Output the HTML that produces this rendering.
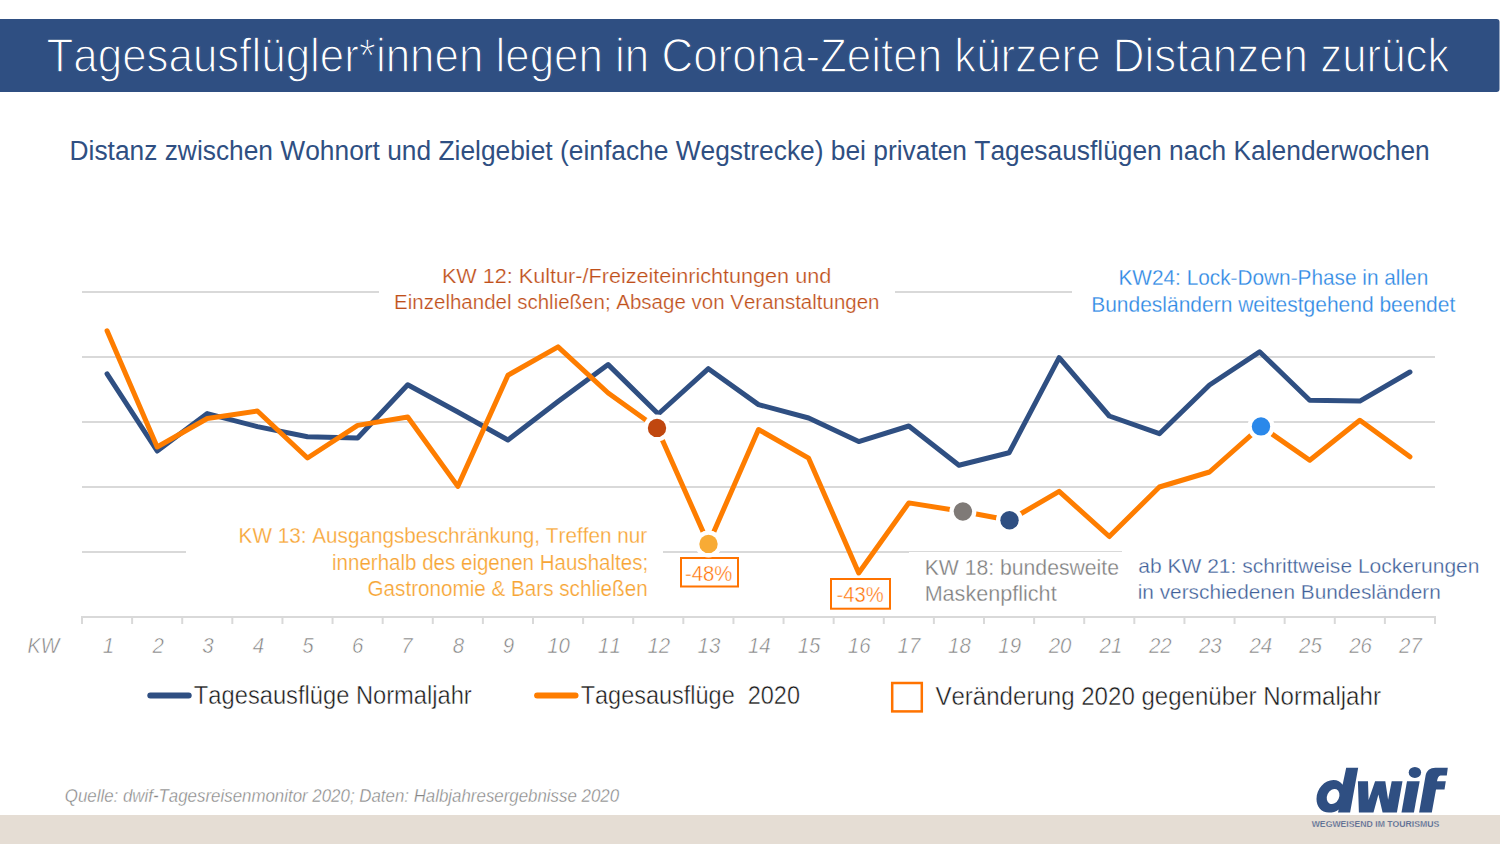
<!DOCTYPE html><html><head><meta charset="utf-8"><style>html,body{margin:0;padding:0;background:#fff;overflow:hidden}svg{display:block}text{font-family:"Liberation Sans",sans-serif;font-kerning:none;font-variant-ligatures:none}</style></head><body>
<svg width="1500" height="844" viewBox="0 0 1500 844">
<rect width="1500" height="844" fill="#fff"/>
<rect x="-10" y="19" width="1509.5" height="73" rx="3" fill="#2f4f82"/>
<text transform="translate(46.51 71.90) scale(0.9229 1)" font-size="47.57" fill="#fff" stroke="#2f4f82" stroke-width="1.30">Tagesausflügler*innen legen in Corona-Zeiten kürzere Distanzen zurück</text>
<text transform="translate(69.54 159.70) scale(0.9869 1)" font-size="26.71" fill="#2f4f82">Distanz zwischen Wohnort und Zielgebiet (einfache Wegstrecke) bei privaten Tagesausflügen nach Kalenderwochen</text>
<line x1="82" y1="292" x2="1435" y2="292" stroke="#d9d9d9" stroke-width="2"/>
<line x1="82" y1="357" x2="1435" y2="357" stroke="#d9d9d9" stroke-width="2"/>
<line x1="82" y1="422" x2="1435" y2="422" stroke="#d9d9d9" stroke-width="2"/>
<line x1="82" y1="487" x2="1435" y2="487" stroke="#d9d9d9" stroke-width="2"/>
<line x1="82" y1="552" x2="1435" y2="552" stroke="#d9d9d9" stroke-width="2"/>
<path d="M82 624 V617 H1435 V624" fill="none" stroke="#d9d9d9" stroke-width="2"/>
<line x1="132.11" y1="617" x2="132.11" y2="624" stroke="#d9d9d9" stroke-width="2"/>
<line x1="182.22" y1="617" x2="182.22" y2="624" stroke="#d9d9d9" stroke-width="2"/>
<line x1="232.33" y1="617" x2="232.33" y2="624" stroke="#d9d9d9" stroke-width="2"/>
<line x1="282.44" y1="617" x2="282.44" y2="624" stroke="#d9d9d9" stroke-width="2"/>
<line x1="332.55" y1="617" x2="332.55" y2="624" stroke="#d9d9d9" stroke-width="2"/>
<line x1="382.67" y1="617" x2="382.67" y2="624" stroke="#d9d9d9" stroke-width="2"/>
<line x1="432.78" y1="617" x2="432.78" y2="624" stroke="#d9d9d9" stroke-width="2"/>
<line x1="482.89" y1="617" x2="482.89" y2="624" stroke="#d9d9d9" stroke-width="2"/>
<line x1="533.00" y1="617" x2="533.00" y2="624" stroke="#d9d9d9" stroke-width="2"/>
<line x1="583.11" y1="617" x2="583.11" y2="624" stroke="#d9d9d9" stroke-width="2"/>
<line x1="633.22" y1="617" x2="633.22" y2="624" stroke="#d9d9d9" stroke-width="2"/>
<line x1="683.33" y1="617" x2="683.33" y2="624" stroke="#d9d9d9" stroke-width="2"/>
<line x1="733.44" y1="617" x2="733.44" y2="624" stroke="#d9d9d9" stroke-width="2"/>
<line x1="783.55" y1="617" x2="783.55" y2="624" stroke="#d9d9d9" stroke-width="2"/>
<line x1="833.66" y1="617" x2="833.66" y2="624" stroke="#d9d9d9" stroke-width="2"/>
<line x1="883.78" y1="617" x2="883.78" y2="624" stroke="#d9d9d9" stroke-width="2"/>
<line x1="933.89" y1="617" x2="933.89" y2="624" stroke="#d9d9d9" stroke-width="2"/>
<line x1="984.00" y1="617" x2="984.00" y2="624" stroke="#d9d9d9" stroke-width="2"/>
<line x1="1034.11" y1="617" x2="1034.11" y2="624" stroke="#d9d9d9" stroke-width="2"/>
<line x1="1084.22" y1="617" x2="1084.22" y2="624" stroke="#d9d9d9" stroke-width="2"/>
<line x1="1134.33" y1="617" x2="1134.33" y2="624" stroke="#d9d9d9" stroke-width="2"/>
<line x1="1184.44" y1="617" x2="1184.44" y2="624" stroke="#d9d9d9" stroke-width="2"/>
<line x1="1234.55" y1="617" x2="1234.55" y2="624" stroke="#d9d9d9" stroke-width="2"/>
<line x1="1284.66" y1="617" x2="1284.66" y2="624" stroke="#d9d9d9" stroke-width="2"/>
<line x1="1334.77" y1="617" x2="1334.77" y2="624" stroke="#d9d9d9" stroke-width="2"/>
<line x1="1384.89" y1="617" x2="1384.89" y2="624" stroke="#d9d9d9" stroke-width="2"/>
<rect x="379" y="270" width="516" height="45" fill="#fff"/>
<rect x="1072" y="270" width="400" height="45" fill="#fff"/>
<rect x="186" y="530" width="477" height="70" fill="#fff"/>
<rect x="909" y="552" width="213" height="55" fill="#fff"/>
<rect x="1122" y="540" width="370" height="70" fill="#fff"/>
<polyline points="107.06,373.80 157.17,451.00 207.28,413.60 257.39,426.60 307.50,436.80 357.61,438.00 407.72,384.80 457.83,412.00 507.94,440.00 558.05,401.50 608.17,364.60 658.28,414.00 708.39,368.70 758.50,404.60 808.61,418.00 858.72,441.60 908.83,426.00 958.94,465.30 1009.05,452.80 1059.16,357.70 1109.28,416.00 1159.39,433.70 1209.50,385.00 1259.61,351.80 1309.72,400.20 1359.83,401.10 1409.94,372.00" fill="none" stroke="#2f4f82" stroke-width="5" stroke-linejoin="round" stroke-linecap="round"/>
<polyline points="107.06,330.80 157.17,447.00 207.28,418.50 257.39,411.00 307.50,458.00 357.61,425.40 407.72,417.00 457.83,486.40 507.94,375.20 558.05,346.90 608.17,393.00 657.00,428.00 708.50,543.90 758.50,429.50 808.61,458.20 858.72,573.00 908.83,502.90 962.90,511.50 1009.50,520.30 1059.16,491.40 1109.28,536.50 1159.39,487.00 1209.50,472.00 1261.00,426.40 1309.72,460.30 1359.83,420.30 1409.94,456.80" fill="none" stroke="#fe7d00" stroke-width="5" stroke-linejoin="round" stroke-linecap="round"/>
<circle cx="657.0" cy="427.9" r="13.5" fill="#fff"/>
<circle cx="708.5" cy="543.9" r="13.5" fill="#fff"/>
<circle cx="962.9" cy="511.5" r="13.5" fill="#fff"/>
<circle cx="1009.5" cy="520.3" r="13.5" fill="#fff"/>
<circle cx="1261.0" cy="426.4" r="13.5" fill="#fff"/>
<circle cx="657.0" cy="427.9" r="9.2" fill="#c0470f"/>
<circle cx="708.5" cy="543.9" r="9.2" fill="#f8ab35"/>
<circle cx="962.9" cy="511.5" r="9.2" fill="#7f7a77"/>
<circle cx="1009.5" cy="520.3" r="9.2" fill="#2f4f82"/>
<circle cx="1261.0" cy="426.4" r="9.2" fill="#2a88ea"/>
<rect x="681" y="558" width="57" height="28.5" fill="#fff" stroke="#ff7300" stroke-width="2"/>
<circle cx="708.5" cy="543.9" r="13.5" fill="#fff"/>
<circle cx="708.5" cy="543.9" r="9.2" fill="#f8ab35"/>
<rect x="831" y="579" width="59" height="29.7" fill="#fff" stroke="#ff7300" stroke-width="2"/>
<text transform="translate(685.00 580.90) scale(0.9481 1)" font-size="21.43" fill="#ff7000" stroke="#fff" stroke-width="0.40">-48%</text>
<text transform="translate(836.60 602.00) scale(0.9439 1)" font-size="21.43" fill="#ff7000" stroke="#fff" stroke-width="0.40">-43%</text>
<text transform="translate(441.93 282.60) scale(1.0229 1)" font-size="21.14" fill="#c0501a" stroke="#fff" stroke-width="0.25">KW 12: Kultur-/Freizeiteinrichtungen und</text>
<text transform="translate(394.12 309.10) scale(0.9702 1)" font-size="21.14" fill="#c0501a" stroke="#fff" stroke-width="0.25">Einzelhandel schließen; Absage von Veranstaltungen</text>
<text transform="translate(1118.49 284.80) scale(0.9334 1)" font-size="22.29" fill="#2e88e4" stroke="#fff" stroke-width="0.25">KW24: Lock-Down-Phase in allen</text>
<text transform="translate(1091.18 311.70) scale(0.9423 1)" font-size="22.29" fill="#2e88e4" stroke="#fff" stroke-width="0.25">Bundesländern weitestgehend beendet</text>
<text transform="translate(238.60 542.90) scale(0.9410 1)" font-size="22.00" fill="#f7a535" stroke="#fff" stroke-width="0.25">KW 13: Ausgangsbeschränkung, Treffen nur</text>
<text transform="translate(332.03 570.00) scale(0.9337 1)" font-size="22.00" fill="#f7a535" stroke="#fff" stroke-width="0.25">innerhalb des eigenen Haushaltes;</text>
<text transform="translate(367.56 595.70) scale(0.9395 1)" font-size="22.00" fill="#f7a535" stroke="#fff" stroke-width="0.25">Gastronomie &amp; Bars schließen</text>
<text transform="translate(924.66 574.60) scale(0.9825 1)" font-size="21.57" fill="#7d7d7d" stroke="#fff" stroke-width="0.30">KW 18: bundesweite</text>
<text transform="translate(924.63 600.60) scale(1.0011 1)" font-size="21.57" fill="#7d7d7d" stroke="#fff" stroke-width="0.30">Maskenpflicht</text>
<text transform="translate(1138.21 572.70) scale(1.0087 1)" font-size="20.86" fill="#3f5f99" stroke="#fff" stroke-width="0.30">ab KW 21: schrittweise Lockerungen</text>
<text transform="translate(1137.71 598.70) scale(0.9975 1)" font-size="20.86" fill="#3f5f99" stroke="#fff" stroke-width="0.30">in verschiedenen Bundesländern</text>
<text transform="translate(27.49 652.90) scale(0.8679 1)" font-size="22.71" fill="#808080" font-style="italic" stroke="#fff" stroke-width="0.55">KW</text>
<text transform="translate(102.67 652.90) scale(0.9000 1)" font-size="22.71" fill="#808080" font-style="italic" stroke="#fff" stroke-width="0.55">1</text>
<text transform="translate(152.39 652.90) scale(0.9000 1)" font-size="22.71" fill="#808080" font-style="italic" stroke="#fff" stroke-width="0.55">2</text>
<text transform="translate(202.14 652.90) scale(0.9000 1)" font-size="22.71" fill="#808080" font-style="italic" stroke="#fff" stroke-width="0.55">3</text>
<text transform="translate(252.72 652.90) scale(0.9000 1)" font-size="22.71" fill="#808080" font-style="italic" stroke="#fff" stroke-width="0.55">4</text>
<text transform="translate(302.26 652.90) scale(0.9000 1)" font-size="22.71" fill="#808080" font-style="italic" stroke="#fff" stroke-width="0.55">5</text>
<text transform="translate(352.05 652.90) scale(0.9000 1)" font-size="22.71" fill="#808080" font-style="italic" stroke="#fff" stroke-width="0.55">6</text>
<text transform="translate(401.36 652.90) scale(0.9000 1)" font-size="22.71" fill="#808080" font-style="italic" stroke="#fff" stroke-width="0.55">7</text>
<text transform="translate(452.64 652.90) scale(0.9000 1)" font-size="22.71" fill="#808080" font-style="italic" stroke="#fff" stroke-width="0.55">8</text>
<text transform="translate(502.82 652.90) scale(0.9000 1)" font-size="22.71" fill="#808080" font-style="italic" stroke="#fff" stroke-width="0.55">9</text>
<text transform="translate(547.21 652.90) scale(0.9000 1)" font-size="22.71" fill="#808080" font-style="italic" stroke="#fff" stroke-width="0.55">10</text>
<text transform="translate(598.10 652.90) scale(0.9000 1)" font-size="22.71" fill="#808080" font-style="italic" stroke="#fff" stroke-width="0.55">11</text>
<text transform="translate(647.49 652.90) scale(0.9000 1)" font-size="22.71" fill="#808080" font-style="italic" stroke="#fff" stroke-width="0.55">12</text>
<text transform="translate(697.54 652.90) scale(0.9000 1)" font-size="22.71" fill="#808080" font-style="italic" stroke="#fff" stroke-width="0.55">13</text>
<text transform="translate(747.95 652.90) scale(0.9000 1)" font-size="22.71" fill="#808080" font-style="italic" stroke="#fff" stroke-width="0.55">14</text>
<text transform="translate(797.65 652.90) scale(0.9000 1)" font-size="22.71" fill="#808080" font-style="italic" stroke="#fff" stroke-width="0.55">15</text>
<text transform="translate(847.79 652.90) scale(0.9000 1)" font-size="22.71" fill="#808080" font-style="italic" stroke="#fff" stroke-width="0.55">16</text>
<text transform="translate(897.58 652.90) scale(0.9000 1)" font-size="22.71" fill="#808080" font-style="italic" stroke="#fff" stroke-width="0.55">17</text>
<text transform="translate(948.07 652.90) scale(0.9000 1)" font-size="22.71" fill="#808080" font-style="italic" stroke="#fff" stroke-width="0.55">18</text>
<text transform="translate(998.33 652.90) scale(0.9000 1)" font-size="22.71" fill="#808080" font-style="italic" stroke="#fff" stroke-width="0.55">19</text>
<text transform="translate(1048.64 652.90) scale(0.9000 1)" font-size="22.71" fill="#808080" font-style="italic" stroke="#fff" stroke-width="0.55">20</text>
<text transform="translate(1099.53 652.90) scale(0.9000 1)" font-size="22.71" fill="#808080" font-style="italic" stroke="#fff" stroke-width="0.55">21</text>
<text transform="translate(1148.93 652.90) scale(0.9000 1)" font-size="22.71" fill="#808080" font-style="italic" stroke="#fff" stroke-width="0.55">22</text>
<text transform="translate(1198.98 652.90) scale(0.9000 1)" font-size="22.71" fill="#808080" font-style="italic" stroke="#fff" stroke-width="0.55">23</text>
<text transform="translate(1249.38 652.90) scale(0.9000 1)" font-size="22.71" fill="#808080" font-style="italic" stroke="#fff" stroke-width="0.55">24</text>
<text transform="translate(1299.09 652.90) scale(0.9000 1)" font-size="22.71" fill="#808080" font-style="italic" stroke="#fff" stroke-width="0.55">25</text>
<text transform="translate(1349.22 652.90) scale(0.9000 1)" font-size="22.71" fill="#808080" font-style="italic" stroke="#fff" stroke-width="0.55">26</text>
<text transform="translate(1399.02 652.90) scale(0.9000 1)" font-size="22.71" fill="#808080" font-style="italic" stroke="#fff" stroke-width="0.55">27</text>
<line x1="150.3" y1="695.4" x2="188.7" y2="695.4" stroke="#2f4f82" stroke-width="6" stroke-linecap="round"/>
<line x1="537.1" y1="695.4" x2="575.5" y2="695.4" stroke="#fe7d00" stroke-width="6" stroke-linecap="round"/>
<rect x="892.2" y="683" width="29.6" height="28.4" fill="none" stroke="#ff7300" stroke-width="2.5"/>
<text transform="translate(193.87 704.00) scale(0.9165 1)" font-size="25.86" fill="#1a1a1a" stroke="#fff" stroke-width="0.45">Tagesausflüge Normaljahr</text>
<text transform="translate(580.67 704.00) scale(0.9086 1)" font-size="25.86" fill="#1a1a1a" stroke="#fff" stroke-width="0.45" style="white-space:pre">Tagesausflüge  2020</text>
<text transform="translate(935.39 704.80) scale(0.9313 1)" font-size="25.86" fill="#1a1a1a" stroke="#fff" stroke-width="0.45">Veränderung 2020 gegenüber Normaljahr</text>
<text transform="translate(64.77 801.50) scale(0.9382 1)" font-size="18.00" fill="#858585" font-style="italic" stroke="#fff" stroke-width="0.35">Quelle: dwif-Tagesreisenmonitor 2020; Daten: Halbjahresergebnisse 2020</text>
<rect x="0" y="815" width="1500" height="29" fill="#e5ddd4"/>
<path fill="#2f4f82" fill-rule="evenodd" d="M1346.2 767.8 L1358.2 767.8 L1350.1 812.6 L1338.0 812.6 L1338.7 809.5 C1336 811.8 1332.5 812.6 1328.9 812.6 C1321 812.6 1316.5 806.5 1316.5 799.1 C1316.5 788.5 1324.5 779.9 1333.5 779.9 C1337.5 779.9 1340.5 781.8 1342.6 784.8 Z"/>
<ellipse cx="1333.1" cy="796.5" rx="6.0" ry="7.9" transform="rotate(25 1333.1 796.5)" fill="#fff"/>
<path fill="#2f4f82" d="M1357.9 781.2 L1368.0 781.2 L1368.6 800.1 L1375.1 781.2 L1385.3 781.2 L1388.1 799.7 L1391.7 781.2 L1402.5 781.2 L1396.9 812.6 L1382.6 812.6 L1378.4 794.5 L1373.5 812.6 L1358.9 812.6 Z"/>
<ellipse cx="1414.9" cy="772.4" rx="6.2" ry="5.5" fill="#2f4f82"/>
<path fill="#2f4f82" d="M1407.0 781.2 L1419.7 781.2 L1413.9 812.6 L1401.5 812.6 Z"/>
<path fill="#2f4f82" d="M1435.4 767.8 L1447.8 767.8 L1446.8 775.6 L1440.5 775.6 C1438.6 775.8 1437.5 778 1437.0 781.2 L1445.8 781.2 L1444.5 789.6 L1436.0 789.6 L1431.8 812.6 L1419.1 812.6 L1425.6 775.6 C1426.6 770.6 1430 767.8 1435.4 767.8 Z"/>
<text transform="translate(1311.69 827.00) scale(1.0131 1)" font-size="8.57" fill="#2f4f82" font-weight="bold" stroke="#e5ddd4" stroke-width="0.30">WEGWEISEND IM TOURISMUS</text>
</svg></body></html>
